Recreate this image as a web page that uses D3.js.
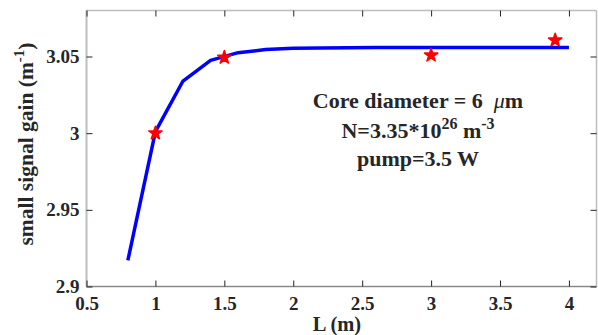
<!DOCTYPE html>
<html><head><meta charset="utf-8">
<script src="https://cdn.jsdelivr.net/npm/d3@7"></script>
<style>body{margin:0;background:#fff}svg{display:block}text{font-family:"Liberation Serif","Times New Roman",serif;font-weight:bold;fill:#262626}</style>
</head><body>
<script>
const lineL = [0.8, 1.0, 1.2, 1.4, 1.6, 1.8, 2.0, 2.2, 2.4, 2.6, 2.8, 3.0, 3.2, 3.4, 3.6, 3.8, 4.0];
const lineGain = [2.917, 3.001, 3.034, 3.0475, 3.0525, 3.0545, 3.0553, 3.0556, 3.0557, 3.0558, 3.0558, 3.0558, 3.0558, 3.0558, 3.0558, 3.0558, 3.0558];
const expL = [1.0, 1.5, 3.0, 3.9];
const expGain = [3.0, 3.0494, 3.0508, 3.0606];
const xTicks = [0.5, 1, 1.5, 2, 2.5, 3, 3.5, 4];
const yTicks = [2.9, 2.95, 3, 3.05];
const annotLines = ["Core diameter = 6\u00a0 ", "N=3.35*10", "pump=3.5 W"];

const W = 598, H = 335;
const m = {left: 86.5, right: 596.5, top: 10.5, bottom: 286.5};
const svg = d3.select("body").append("svg").attr("width", W).attr("height", H);
const x = d3.scaleLinear().domain([0.5, 4.2]).range([m.left, m.right]);
const y = d3.scaleLinear().domain([2.9, 3.08]).range([m.bottom, m.top]);

// box
svg.append("line").attr("x1", m.left).attr("x2", m.right).attr("y1", m.top).attr("y2", m.top).attr("stroke", "#bdbdbd").attr("stroke-width", 1.5);
svg.append("line").attr("x1", m.right).attr("x2", m.right).attr("y1", m.top).attr("y2", m.bottom).attr("stroke", "#bdbdbd").attr("stroke-width", 1.5);
svg.append("line").attr("x1", m.left).attr("x2", m.left).attr("y1", m.top).attr("y2", m.bottom).attr("stroke", "#bdbdbd").attr("stroke-width", 2);
svg.append("line").attr("x1", m.left).attr("x2", m.right).attr("y1", m.bottom).attr("y2", m.bottom).attr("stroke", "#8a8a8a").attr("stroke-width", 1.5);

// axes with inward ticks
const ax = d3.axisBottom(x).tickValues(xTicks).tickSize(-6).tickPadding(10).tickFormat(d3.format("~g"));
const gx = svg.append("g").attr("transform", `translate(0,${m.bottom})`).call(ax);
gx.select(".domain").remove();
gx.selectAll(".tick line").attr("stroke", "#262626");
gx.selectAll("text").attr("font-size", 19).attr("fill", "#262626").attr("font-family", null);
const axTop = d3.axisTop(x).tickValues(xTicks).tickSize(-6).tickFormat("");
const gxt = svg.append("g").attr("transform", `translate(0,${m.top})`).call(axTop);
gxt.select(".domain").remove();
gxt.selectAll(".tick line").attr("stroke", "#262626");

const ay = d3.axisLeft(y).tickValues(yTicks).tickSize(-6).tickPadding(7).tickFormat(d3.format("~g"));
const gy = svg.append("g").attr("transform", `translate(${m.left},0)`).call(ay);
gy.select(".domain").remove();
gy.selectAll(".tick line").attr("stroke", "#262626");
gy.selectAll("text").attr("font-size", 19).attr("fill", "#262626").attr("font-family", null);
const ayR = d3.axisRight(y).tickValues(yTicks).tickSize(-6).tickFormat("");
const gyr = svg.append("g").attr("transform", `translate(${m.right},0)`).call(ayR);
gyr.select(".domain").remove();
gyr.selectAll(".tick line").attr("stroke", "#262626");

// line
svg.append("path").datum(lineL.map((d, i) => [d, lineGain[i]]))
  .attr("fill", "none").attr("stroke", "#0000ff").attr("stroke-width", 3.5).attr("stroke-linejoin", "round")
  .attr("d", d3.line().x(d => x(d[0])).y(d => y(d[1])));

// stars
svg.selectAll(".star").data(expL.map((d, i) => [d, expGain[i]])).enter().append("path")
  .attr("transform", d => `translate(${x(d[0])},${y(d[1])})`)
  .attr("d", d3.symbol().type(d3.symbolStar).size(55))
  .attr("fill", "#ff0000").attr("stroke", "#ff0000").attr("stroke-width", 1.5).attr("stroke-linejoin", "round");

// axis labels
svg.append("text").attr("x", 337).attr("y", 331).attr("text-anchor", "middle").attr("font-size", 20.5).text("L (m)");
const yl = svg.append("text").attr("transform", "translate(33,144) rotate(-90)").attr("text-anchor", "middle").attr("font-size", 21.5);
yl.append("tspan").text("small signal gain (m");
yl.append("tspan").attr("dy", -9).attr("font-size", 15).text("-1");
yl.append("tspan").attr("dy", 9).text(")");

// annotation
const a1 = svg.append("text").attr("x", 418).attr("y", 108).attr("text-anchor", "middle").attr("font-size", 22);
a1.append("tspan").text(annotLines[0]);
a1.append("tspan").attr("font-style", "italic").attr("font-weight", "normal").text("\u03bc");
a1.append("tspan").text("m");
const a2 = svg.append("text").attr("x", 418).attr("y", 138).attr("text-anchor", "middle").attr("font-size", 22);
a2.append("tspan").text(annotLines[1]);
a2.append("tspan").attr("dy", -9).attr("font-size", 16).text("26");
a2.append("tspan").attr("dy", 9).text(" m");
a2.append("tspan").attr("dy", -9).attr("font-size", 16).text("-3");
svg.append("text").attr("x", 418).attr("y", 166).attr("text-anchor", "middle").attr("font-size", 22).text(annotLines[2]);
</script>
</body></html>
